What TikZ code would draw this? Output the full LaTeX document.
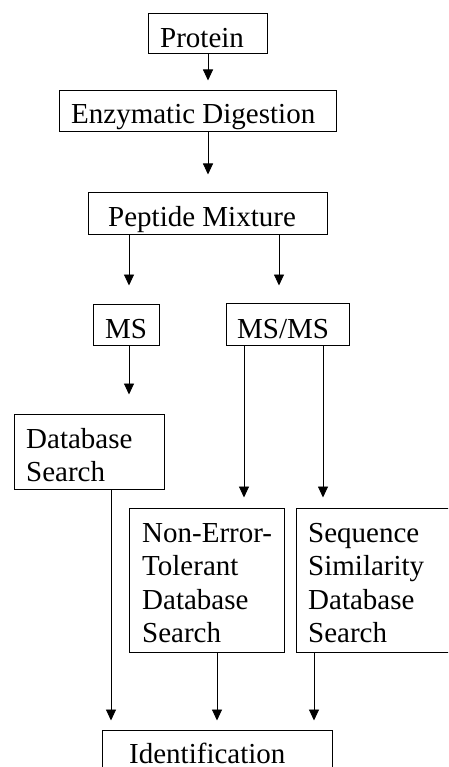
\documentclass[tikz,border=0pt]{standalone}
\usepackage{fontspec}
\setmainfont{Liberation Serif}
\usetikzlibrary{arrows.meta}
\begin{document}
\begin{tikzpicture}[x=1pt,y=-1pt,
  box/.style={draw, line width=1pt, inner sep=0pt, rectangle},
  txt/.style={inner sep=0pt, anchor=base west, font=\fontsize{29}{33.6}\selectfont, align=left},
  arr/.style={line width=0.9pt, -{Triangle[length=11pt,width=10pt]}}]
\useasboundingbox (0,0) rectangle (448,767);
\clip (0,0) rectangle (448,767);
% boxes
\node[box, minimum width=119pt, minimum height=40pt] (prot) at (207.5,34) {};
\node[box, minimum width=277pt, minimum height=41pt] (enz) at (197.5,111.5) {};
\node[box, minimum width=239pt, minimum height=41pt] (pep) at (207.5,213.5) {};
\node[box, minimum width=66pt, minimum height=41pt] (ms) at (126,324.5) {};
\node[box, minimum width=123pt, minimum height=42pt] (msms) at (287.5,324) {};
\node[box, minimum width=150pt, minimum height=75pt] (dbs) at (89,451.5) {};
\node[box, minimum width=155pt, minimum height=144pt] (net) at (206.5,580) {};
\node[box, minimum width=164pt, minimum height=144pt] (ssds) at (378,580) {};
\node[box, minimum width=230pt, minimum height=50pt] (ident) at (217,755) {};
% texts
\node[txt] (protT) at (160,48) {Protein};
\node[txt] (enzT) at (71,124) {Enzymatic Digestion};
\node[txt] (pepT) at (108,226) {Peptide Mixture};
\node[txt] (msT) at (105,338) {MS};
\node[txt] (msmsT) at (237,338) {MS/MS};
\node[txt, text width=130pt] (dbsT) at (26,448) {Database\\Search};
\node[txt, text width=140pt] (netT) at (142,542) {Non-Error-\\Tolerant\\Database\\Search};
\node[txt, text width=140pt] (ssdsT) at (308,542) {Sequence\\Similarity\\Database\\Search};
\node[txt] (identT) at (129,763) {Identification};
% x positions of connectors
\coordinate (xa) at (208,0);
\coordinate (xb) at (129,0);
\coordinate (xc) at (279,0);
\coordinate (xd) at (244,0);
\coordinate (xe) at (323,0);
\coordinate (xf) at (111,0);
\coordinate (xg) at (217,0);
\coordinate (xh) at (314,0);
% connectors
\draw[arr, shorten >=10pt] (prot.south -| xa) -- (enz.north -| xa);
\draw[arr, shorten >=18pt] (enz.south -| xa) -- (pep.north -| xa);
\draw[arr, shorten >=18pt] (pep.south -| xb) -- (ms.north -| xb);
\draw[arr, shorten >=17pt] (pep.south -| xc) -- (msms.north -| xc);
\draw[arr, shorten >=19pt] (ms.south -| xb) -- (dbs.north -| xb);
\draw[arr, shorten >=10pt] (msms.south -| xd) -- (net.north -| xd);
\draw[arr, shorten >=10pt] (msms.south -| xe) -- (ssds.north -| xe);
\draw[arr, shorten >=9pt] (dbs.south -| xf) -- (ident.north -| xf);
\draw[arr, shorten >=9pt] (net.south -| xg) -- (ident.north -| xg);
\draw[arr, shorten >=9pt] (ssds.south -| xh) -- (ident.north -| xh);
\end{tikzpicture}
\end{document}
